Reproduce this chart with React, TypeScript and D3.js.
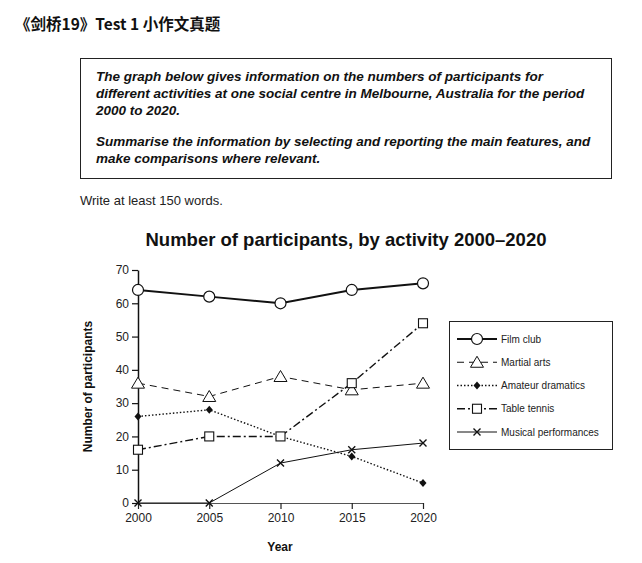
import { useEffect, useRef } from "react";
import * as d3 from "d3";

const years = [2000, 2005, 2010, 2015, 2020];
const yTicks = [0, 10, 20, 30, 40, 50, 60, 70];

const filmClub = [64, 62, 60, 64, 66];
const martialArts = [36, 32, 38, 34, 36];
const amateurDramatics = [26, 28, 20, 14, 6];
const tableTennis = [16, 20, 20, 36, 54];
const musicalPerformances = [0, 0, 12, 16, 18];

const seriesNames = ["Film club", "Martial arts", "Amateur dramatics", "Table tennis", "Musical performances"];

const taskLines = [
  "The graph below gives information on the numbers of participants for",
  "different activities at one social centre in Melbourne, Australia for the period",
  "2000 to 2020.",
  "",
  "Summarise the information by selecting and reporting the main features, and",
  "make comparisons where relevant.",
];

type Marker = "circle" | "triangle" | "diamond" | "square" | "cross";

interface Series {
  name: string;
  values: number[];
  width: number;
  dash: string | null;
  marker: Marker;
}

const series: Series[] = [
  { name: seriesNames[0], values: filmClub, width: 2, dash: null, marker: "circle" },
  { name: seriesNames[1], values: martialArts, width: 1, dash: "7 5", marker: "triangle" },
  { name: seriesNames[2], values: amateurDramatics, width: 1.4, dash: "1.5 2", marker: "diamond" },
  { name: seriesNames[3], values: tableTennis, width: 1.4, dash: "8 3 2 3", marker: "square" },
  { name: seriesNames[4], values: musicalPerformances, width: 1, dash: null, marker: "cross" },
];

const font = "'Liberation Sans', Arial, sans-serif";

function drawMarker(g: d3.Selection<SVGGElement, unknown, null, undefined>, m: Marker, x: number, y: number) {
  if (m === "circle") {
    g.append("circle").attr("cx", x).attr("cy", y).attr("r", 5.5)
      .attr("fill", "#fff").attr("stroke", "#111").attr("stroke-width", 1.2);
  } else if (m === "triangle") {
    g.append("path").attr("d", `M${x},${y - 6}L${x + 6.5},${y + 5}L${x - 6.5},${y + 5}Z`)
      .attr("fill", "#fff").attr("stroke", "#111").attr("stroke-width", 1);
  } else if (m === "diamond") {
    g.append("path").attr("d", `M${x},${y - 4}L${x + 3.5},${y}L${x},${y + 4}L${x - 3.5},${y}Z`)
      .attr("fill", "#111");
  } else if (m === "square") {
    g.append("rect").attr("x", x - 4.5).attr("y", y - 4.5).attr("width", 9).attr("height", 9)
      .attr("fill", "#fff").attr("stroke", "#111").attr("stroke-width", 1.1);
  } else {
    g.append("path").attr("d", `M${x - 3.5},${y - 3.5}L${x + 3.5},${y + 3.5}M${x + 3.5},${y - 3.5}L${x - 3.5},${y + 3.5}`)
      .attr("stroke", "#111").attr("stroke-width", 1.4);
  }
}

export default function App() {
  const svgRef = useRef<SVGSVGElement | null>(null);

  useEffect(() => {
    const svgEl = svgRef.current;
    if (!svgEl) return;
    const svg = d3.select(svgEl);
    svg.selectAll("*").remove();

    // header
    svg.append("text").attr("x", 15).attr("y", 30)
      .attr("font-family", "'Noto Sans CJK SC', sans-serif").attr("font-weight", "bold")
      .attr("font-size", 15.5).attr("fill", "#111").text("《剑桥19》Test 1 小作文真题");

    svg.append("rect").attr("x", 80.5).attr("y", 58.5).attr("width", 531).attr("height", 120)
      .attr("fill", "none").attr("stroke", "#222").attr("stroke-width", 1);

    const lineY = [81, 98, 115, 0, 146, 163];
    taskLines.forEach((t, i) => {
      if (!t) return;
      svg.append("text").attr("x", 96).attr("y", lineY[i])
        .attr("font-family", font).attr("font-weight", "bold").attr("font-style", "italic")
        .attr("font-size", 13.5).attr("fill", "#111").text(t);
    });

    svg.append("text").attr("x", 80).attr("y", 205).attr("font-family", font)
      .attr("font-size", 13).attr("fill", "#222").text("Write at least 150 words.");

    svg.append("text").attr("x", 346).attr("y", 246).attr("text-anchor", "middle")
      .attr("font-family", font).attr("font-weight", "bold").attr("font-size", 18.5)
      .attr("fill", "#111").text("Number of participants, by activity 2000\u20132020");

    // chart
    const x = d3.scaleLinear().domain([2000, 2020]).range([138, 423]);
    const y = d3.scaleLinear().domain([0, 70]).range([503, 270]);

    const g = svg.append("g");

    const xAxis = g.append("g").attr("transform", `translate(0,${y(0)})`)
      .call(d3.axisBottom(x).tickValues(years).tickFormat(d3.format("d")).tickSizeInner(6).tickSizeOuter(0).tickPadding(4));
    xAxis.select(".domain").attr("stroke", "#555").attr("stroke-width", 1.2);
    xAxis.selectAll(".tick line").attr("stroke", "#222").attr("stroke-width", 1.2);
    xAxis.selectAll("text").attr("font-family", font).attr("font-size", 12).attr("fill", "#222");

    const yAxis = g.append("g").attr("transform", `translate(${x(2000)},0)`)
      .call(d3.axisLeft(y).tickValues(yTicks).tickSizeInner(6).tickSizeOuter(0).tickPadding(3));
    yAxis.select(".domain").attr("stroke", "#111").attr("stroke-width", 1.5);
    yAxis.selectAll(".tick line").attr("stroke", "#111").attr("stroke-width", 1.2);
    yAxis.selectAll("text").attr("font-family", font).attr("font-size", 12).attr("fill", "#222");

    svg.append("text").attr("x", 280).attr("y", 551).attr("text-anchor", "middle")
      .attr("font-family", font).attr("font-weight", "bold").attr("font-size", 12)
      .attr("fill", "#111").text("Year");

    svg.append("text").attr("transform", `translate(92,${y(35)}) rotate(-90)`)
      .attr("text-anchor", "middle").attr("font-family", font).attr("font-weight", "bold")
      .attr("font-size", 12).attr("fill", "#111").text("Number of participants");

    const line = d3.line<number>().x((_, i) => x(years[i])).y((d) => y(d));

    series.forEach((s) => {
      g.append("path").datum(s.values).attr("d", line).attr("fill", "none")
        .attr("stroke", "#111").attr("stroke-width", s.width)
        .attr("stroke-dasharray", s.dash ?? null);
    });
    series.forEach((s) => {
      s.values.forEach((v, i) => drawMarker(g, s.marker, x(years[i]), y(v)));
    });

    // legend
    const lg = svg.append("g");
    lg.append("rect").attr("x", 449.5).attr("y", 321.5).attr("width", 163).attr("height", 128)
      .attr("fill", "#fff").attr("stroke", "#222").attr("stroke-width", 1);
    const legendY = d3.scalePoint<string>().domain(seriesNames).range([339, 432]);
    series.forEach((s) => {
      const ly = legendY(s.name)!;
      lg.append("line").attr("x1", 457).attr("x2", 497).attr("y1", ly).attr("y2", ly)
        .attr("stroke", "#111").attr("stroke-width", s.width)
        .attr("stroke-dasharray", s.dash ?? null);
      drawMarker(lg, s.marker, 477, ly);
      lg.append("text").attr("x", 501).attr("y", ly + 3.5).attr("font-family", font)
        .attr("font-size", 10).attr("fill", "#222").text(s.name);
    });
  }, []);

  return (
    <svg ref={svgRef} width={642} height={563}
      style={{ position: "absolute", left: 0, top: 0, background: "#fff" }} />
  );
}
